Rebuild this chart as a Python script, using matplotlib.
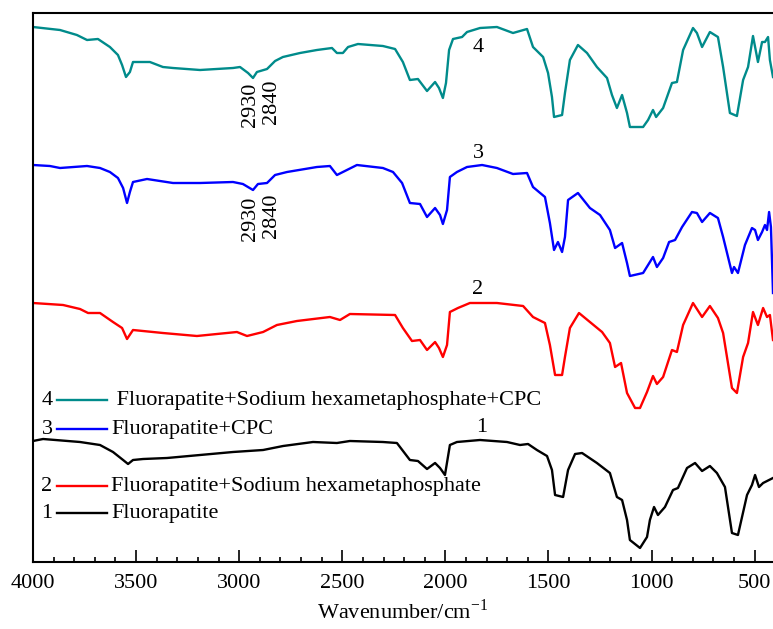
import matplotlib
matplotlib.use("Agg")
import matplotlib.pyplot as plt
from matplotlib.ticker import MultipleLocator

plt.rcParams['font.family'] = ['Liberation Serif', 'DejaVu Serif']
plt.rcParams['mathtext.fontset'] = 'custom'
plt.rcParams['mathtext.rm'] = 'Liberation Serif'

# ---- data (wavenumber, relative transmittance incl. vertical offset) ----
wn4 = [4000, 3869, 3787, 3738, 3685, 3627, 3588, 3568, 3549, 3530, 3515, 3433, 3370, 3321, 3190,
       3030, 2996, 2957, 2933, 2914, 2865, 2826, 2788, 2705, 2623, 2550, 2526, 2497, 2472, 2424,
       2303, 2244, 2206, 2172, 2133, 2089, 2050, 2031, 2012, 1997, 1982, 1963, 1919, 1895, 1832,
       1750, 1672, 1604, 1575, 1526, 1502, 1483, 1473, 1434, 1420, 1396, 1357, 1313, 1265, 1216,
       1192, 1168, 1143, 1119, 1105, 1041, 1017, 993, 978, 944, 901, 877, 847, 799, 780,
       755, 717, 678, 653, 620, 586, 556, 532, 508, 484, 464, 450, 435, 426, 411]
t4 = [535, 532, 527, 522, 523, 515, 507, 497, 485, 490, 500, 500, 495, 494, 492,
      494, 495, 489, 484, 490, 493, 501, 505, 509, 512, 514, 509, 509, 515, 518,
      516, 513, 500, 482, 483, 471, 480, 474, 464, 479, 512, 523, 525, 530, 534,
      535, 529, 533, 515, 505, 489, 465, 445, 447, 469, 502, 517, 509, 495, 484,
      467, 454, 467, 449, 435, 435, 442, 452, 445, 454, 479, 480, 512, 534, 529,
      515, 530, 525, 495, 449, 446, 482, 495, 526, 500, 520, 520, 525, 502, 485]

wn3 = [4000, 3918, 3869, 3738, 3675, 3627, 3588, 3563, 3544, 3530, 3515, 3447, 3321, 3190, 3030,
       2982, 2933, 2909, 2865, 2826, 2768, 2623, 2560, 2526, 2497, 2429, 2303, 2254, 2210, 2172,
       2123, 2089, 2050, 2026, 2012, 1992, 1978, 1944, 1895, 1822, 1750, 1672, 1604, 1575, 1517,
       1493, 1473, 1454, 1434, 1420, 1405, 1357, 1299, 1250, 1202, 1177, 1143, 1119, 1105, 1041,
       1017, 993, 974, 944, 915, 886, 852, 804, 780, 755, 717, 678, 653, 610, 600,
       581, 547, 513, 498, 484, 464, 450, 440, 430, 421, 411]
t3 = [397, 396, 394, 396, 394, 390, 384, 374, 359, 370, 380, 383, 379, 379, 380,
      378, 372, 378, 379, 387, 390, 395, 396, 387, 390, 397, 394, 390, 379, 359,
      358, 345, 354, 347, 338, 352, 385, 390, 395, 397, 394, 388, 389, 375, 365,
      339, 312, 320, 310, 325, 362, 369, 354, 347, 332, 314, 319, 299, 286, 289,
      297, 305, 295, 304, 320, 322, 335, 350, 349, 340, 349, 344, 325, 289, 295,
      289, 317, 334, 332, 322, 330, 337, 332, 350, 335, 269]

wn2 = [4000, 3854, 3772, 3733, 3675, 3612, 3568, 3544, 3515, 3370, 3205, 3011, 2962, 2884, 2817,
       2720, 2560, 2511, 2463, 2244, 2206, 2162, 2123, 2089, 2050, 2031, 2012, 1992, 1978, 1939,
       1881, 1750, 1623, 1575, 1517, 1493, 1468, 1434, 1420, 1396, 1352, 1299, 1240, 1202, 1177,
       1148, 1119, 1080, 1056, 1022, 993, 974, 944, 901, 877, 847, 799, 755, 717, 678,
       653, 610, 586, 556, 532, 508, 484, 459, 440, 426, 411]
t2 = [259, 257, 253, 249, 249, 240, 234, 223, 232, 229, 226, 230, 226, 230, 237,
      241, 245, 242, 248, 247, 234, 221, 222, 212, 220, 214, 205, 217, 250, 254,
      259, 259, 256, 245, 239, 217, 187, 187, 205, 234, 249, 240, 230, 219, 195,
      199, 169, 154, 154, 170, 186, 178, 185, 212, 210, 237, 259, 245, 256, 244,
      229, 174, 169, 205, 219, 250, 237, 254, 245, 247, 222]

wn1 = [4000, 3951, 3772, 3675, 3612, 3563, 3539, 3515, 3466, 3350, 3190, 3030, 2884, 2787, 2642,
       2526, 2463, 2303, 2235, 2172, 2133, 2089, 2050, 2026, 2002, 1978, 1944, 1832, 1701, 1638,
       1599, 1556, 1507, 1483, 1468, 1429, 1405, 1371, 1337, 1265, 1202, 1168, 1143, 1119, 1105,
       1056, 1022, 1008, 988, 969, 935, 896, 872, 828, 789, 755, 717, 683, 644, 610,
       581, 537, 513, 498, 479, 459, 411]
t1 = [121, 123, 120, 117, 110, 102, 98, 102, 103, 104, 107, 110, 112, 116, 120,
      119, 121, 120, 119, 102, 101, 93, 99, 94, 87, 117, 120, 122, 120, 117,
      118, 112, 106, 92, 67, 65, 92, 108, 109, 99, 89, 65, 62, 42, 22,
      14, 25, 42, 55, 47, 55, 72, 74, 94, 99, 91, 96, 89, 75, 29,
      27, 67, 77, 87, 75, 79, 84]

colors = ['black', '#FF0000', '#0000FF', '#008B8B']
curve_labels = ['1', '2', '3', '4']
legend_names = ['Fluorapatite',
                'Fluorapatite+Sodium hexametaphosphate',
                'Fluorapatite+CPC',
                ' Fluorapatite+Sodium hexametaphosphate+CPC']
label_pos = [(1822, 135), (1842, 272), (1842, 409), (1842, 514)]
peak_labels = ['2930', '2840']
peak_wn = [2943, 2841]
peak_tops = [[365, 369], [479, 483]]   # for curves 3 and 4

FS = 16

fig = plt.figure(figsize=(7.73, 6.29), dpi=100)
ax = fig.add_axes([33 / 773, (629 - 562) / 629, 740 / 773, 549 / 629])

series = [(wn1, t1), (wn2, t2), (wn3, t3), (wn4, t4)]
for (w, t), c in zip(series, colors):
    ax.plot(w, t, color=c, lw=1.7, solid_joinstyle='round')

ax.set_xlim(4000, 411)
ax.set_ylim(0, 549)

for lab, (x, y) in zip(curve_labels, label_pos):
    ax.text(x, y, lab, ha='center', va='center', fontsize=FS)

for tops in peak_tops:
    for lab, x, y in zip(peak_labels, peak_wn, tops):
        ax.text(x, y, lab, rotation=90, ha='center', va='top', fontsize=FS)

# legend drawn manually (numbered rows)
rows_y = [0.089, 0.138, 0.242, 0.295]
for lab, name, c, y in zip(curve_labels, legend_names, colors, rows_y):
    ax.text(0.019, y, lab, transform=ax.transAxes, ha='center', va='center', fontsize=FS)
    ax.plot([0.032, 0.100], [y, y], transform=ax.transAxes, color=c, lw=1.7)
    ax.text(0.106, y, name, transform=ax.transAxes, ha='left', va='center', fontsize=FS)

ax.xaxis.set_major_locator(MultipleLocator(500))
ax.xaxis.set_minor_locator(MultipleLocator(100))
ax.tick_params(axis='x', which='major', direction='in', length=8.5, width=1.2, labelsize=FS, pad=9)
ax.tick_params(axis='x', which='minor', direction='in', length=3.8, width=1.2)
ax.set_yticks([])
for s in ['left', 'top', 'bottom']:
    ax.spines[s].set_linewidth(1.5)
ax.spines['right'].set_visible(False)

ax.set_xlabel('Wavenumber/cm$^{-1}$', fontsize=FS, labelpad=4)

fig.savefig('out.png', dpi=100)
